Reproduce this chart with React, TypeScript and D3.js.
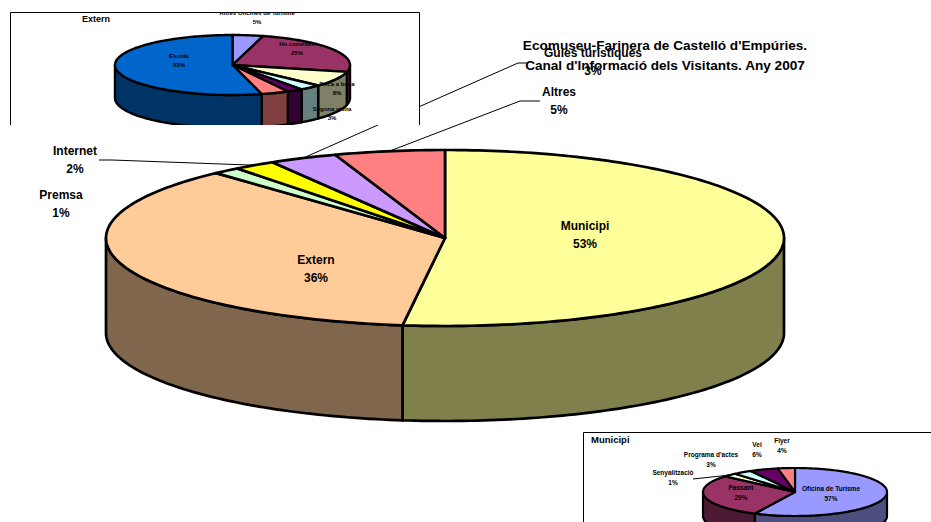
import React from "react";
import { line, pie, range, rgb } from "d3";

const mainNames = ["Municipi", "Extern", "Premsa", "Internet", "Guies turístiques", "Altres"];
const mainValues = [52, 36.2, 1.3, 2, 3.25, 5.25];
const mainPercents = ["53%", "36%", "1%", "2%", "3%", "5%"];
const mainColors = ["#FFFF99", "#FFCC99", "#CCFFCC", "#FFFF00", "#CC99FF", "#FF8080"];

const externNames = ["Altres Oficines de Turisme", "Ho coneixen", "Boca a boca", "Segona visita", "", "", "Escola"];
const externValues = [4.2, 24.5, 8.3, 3, 2.2, 3.8, 54];
const externPercents = ["5%", "25%", "8%", "3%", "", "", "53%"];
const externColors = ["#9999FF", "#993366", "#FFFFCC", "#CCFFFF", "#660066", "#FF8080", "#0066CC"];

const municipiNames = ["Oficina de Turisme", "Passant", "Senyalització", "Programa d'actes", "Vei", "Flyer"];
const municipiValues = [57.2, 29.1, 2.4, 3.3, 5, 3];
const municipiPercents = ["57%", "29%", "1%", "3%", "6%", "4%"];
const municipiColors = ["#9999FF", "#993366", "#FFFFCC", "#CCFFFF", "#660066", "#FF8080"];

const titleLines = ["Ecomuseu-Farinera de Castelló d'Empúries.", "Canal d'Informació dels Visitants. Any 2007"];

// layout
const mainGeom = { cx: 445, cy: 238, rx: 339, ry: 88, depth: 95 };
const externGeom = { cx: 232.5, cy: 65, rx: 117.5, ry: 30, depth: 33 };
const municipiGeom = { cx: 795, cy: 492, rx: 92, ry: 24, depth: 24 };

const mainLabelAt = [[585, 230], [316, 264], [61, 199], [75, 155], [593, 57], [559, 96]];
const externLabelAt = [[257, 15], [297, 46], [337, 86], [332, 111], [0, 0], [0, 0], [179, 58]];
const municipiLabelAt = [[831, 491], [741, 490], [673, 475], [711, 457], [757, 447], [782, 443]];

type Geom = { cx: number; cy: number; rx: number; ry: number; depth: number };

const rim = (g: Geom, a: number, dy = 0): [number, number] => [
  g.cx + g.rx * Math.sin(a),
  g.cy - g.ry * Math.cos(a) + dy,
];

const arcAngles = (a0: number, a1: number) => {
  const n = Math.max(2, Math.ceil((a1 - a0) / 0.02));
  return range(n + 1).map((i) => a0 + ((a1 - a0) * i) / n);
};

const toPath = line();

function Pie3D({ geom, values, colors, sw = 2 }: { geom: Geom; values: number[]; colors: string[]; sw?: number }) {
  const arcs = pie<number>().sort(null)(values);
  return (
    <g stroke="#000" strokeWidth={sw} strokeLinejoin="round">
      {arcs.map((d, i) => {
        // only the part of the slice facing the viewer gets a wall
        const a0 = Math.max(d.startAngle, Math.PI / 2);
        const a1 = Math.min(d.endAngle, (3 * Math.PI) / 2);
        if (a1 <= a0) return null;
        const ang = arcAngles(a0, a1);
        const pts = [...ang.map((a) => rim(geom, a)), ...ang.reverse().map((a) => rim(geom, a, geom.depth))];
        const c = rgb(colors[i]);
        return <path key={i} d={toPath(pts) + "Z"} fill={rgb(c.r * 0.5, c.g * 0.5, c.b * 0.5).formatHex()} />;
      })}
      {arcs.map((d, i) => {
        const pts = [[geom.cx, geom.cy] as [number, number], ...arcAngles(d.startAngle, d.endAngle).map((a) => rim(geom, a))];
        return <path key={i} d={toPath(pts) + "Z"} fill={colors[i]} />;
      })}
    </g>
  );
}

function Labels({ names, percents, at, size, gap }: { names: string[]; percents: string[]; at: number[][]; size: number; gap: number }) {
  return (
    <g textAnchor="middle" fontFamily="'Liberation Sans', Arial, sans-serif" fontWeight="bold" fontSize={size} fill="#000">
      {names.map((n, i) =>
        n ? (
          <g key={i}>
            <text x={at[i][0]} y={at[i][1]}>{n}</text>
            <text x={at[i][0]} y={at[i][1] + gap}>{percents[i]}</text>
          </g>
        ) : null
      )}
    </g>
  );
}

const midAngle = (values: number[], i: number) => {
  const d = pie<number>().sort(null)(values)[i];
  return (d.startAngle + d.endAngle) / 2;
};

export default function App() {
  const leaders: [number, number][][] = [
    [rim(mainGeom, midAngle(mainValues, 3)), [112, 160], [99, 160]],
    [rim(mainGeom, midAngle(mainValues, 4)), [518, 63], [527, 63]],
    [rim(mainGeom, midAngle(mainValues, 5)), [520, 101], [540, 101]],
  ];
  const municipiLeader: [number, number][] = [rim(municipiGeom, midAngle(municipiValues, 2)), [693, 479]];

  return (
    <svg width={931} height={522} style={{ position: "absolute", left: 0, top: 0 }}>
      <defs>
        <clipPath id="extern-clip">
          <rect x={10} y={12} width={410} height={113} />
        </clipPath>
        <clipPath id="municipi-clip">
          <rect x={583} y={432} width={348} height={90} />
        </clipPath>
      </defs>
      <rect width={931} height={522} fill="#fff" />

      {/* main chart */}
      <Pie3D geom={mainGeom} values={mainValues} colors={mainColors} sw={2.7} />
      <g fill="none" stroke="#000" strokeWidth={1}>
        {leaders.map((l, i) => (
          <path key={i} d={toPath(l) as string} />
        ))}
      </g>
      <Labels names={mainNames} percents={mainPercents} at={mainLabelAt} size={12} gap={18} />

      {/* Extern inset, its lower part is cut off in the original */}
      <g clipPath="url(#extern-clip)">
        <rect x={10} y={12} width={410} height={113} fill="#fff" />
        <Pie3D geom={externGeom} values={externValues} colors={externColors} sw={2.4} />
        <Labels names={externNames} percents={externPercents} at={externLabelAt} size={6} gap={9} />
        <text x={82} y={22} fontFamily="'Liberation Sans', Arial, sans-serif" fontWeight="bold" fontSize={9}>Extern</text>
      </g>
      <path d="M10.5 125V12.5H419.5V125" fill="none" stroke="#000" strokeWidth={1} />

      {/* Municipi inset */}
      <g clipPath="url(#municipi-clip)">
        <rect x={583} y={432} width={348} height={90} fill="#fff" />
        <Pie3D geom={municipiGeom} values={municipiValues} colors={municipiColors} sw={2.2} />
        <path d={toPath(municipiLeader) as string} stroke="#000" strokeWidth={1} fill="none" />
        <Labels names={municipiNames} percents={municipiPercents} at={municipiLabelAt} size={6.5} gap={10} />
        <text x={591} y={443} fontFamily="'Liberation Sans', Arial, sans-serif" fontWeight="bold" fontSize={9.5}>Municipi</text>
      </g>
      <path d="M583.5 522V432.5H931" fill="none" stroke="#000" strokeWidth={1} />

      <g textAnchor="middle" fontFamily="'Liberation Sans', Arial, sans-serif" fontWeight="bold" fontSize={13.6} fill="#000">
        {titleLines.map((t, i) => (
          <text key={i} x={665} y={50 + i * 20}>{t}</text>
        ))}
      </g>
    </svg>
  );
}
